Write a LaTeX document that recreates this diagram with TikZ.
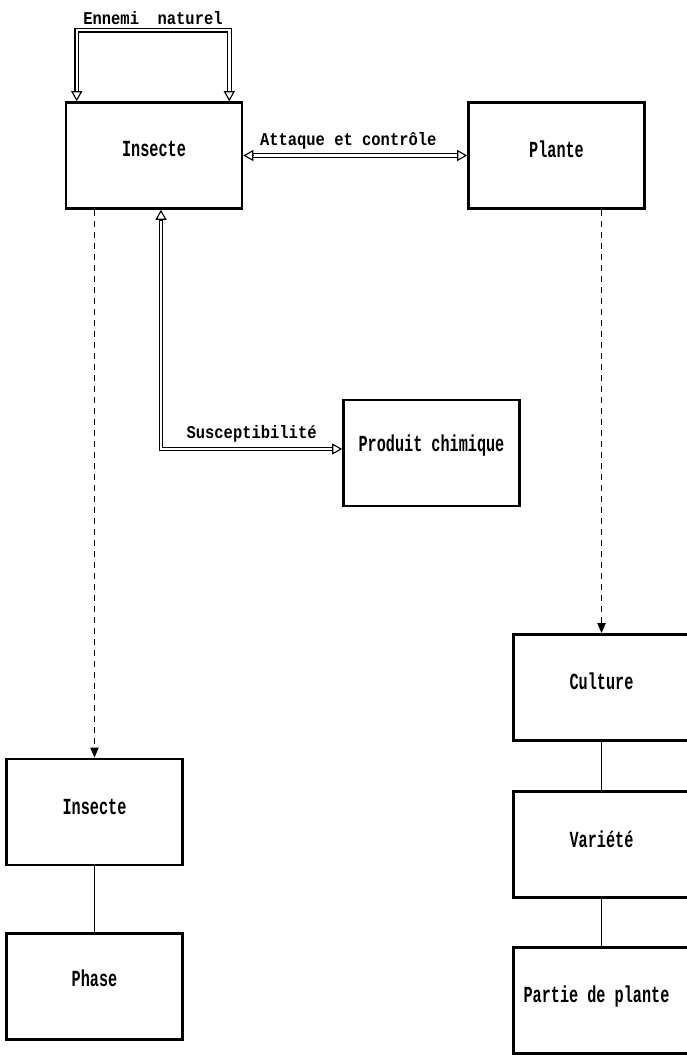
\documentclass[tikz,border=0pt]{standalone}
\usepackage{fontspec}
\usetikzlibrary{arrows.meta,calc}
\newfontfamily\labfont[FakeStretch=0.86]{Liberation Mono}
\newfontfamily\boxfont[FakeStretch=0.66]{Liberation Mono}
\begin{document}
\begin{tikzpicture}[x=1pt,y=-1pt,
 box/.style={draw, line width=2.6pt, minimum width=176pt, minimum height=106pt, inner sep=0pt},
 boxtext/.style={font=\boxfont\bfseries\fontsize{23}{26}\selectfont, inner sep=0pt},
 lab/.style={font=\labfont\bfseries\fontsize{18}{20}\selectfont, inner sep=0pt},
 dbl/.style={double, double distance=2.4pt, line width=1.1pt, shorten <=9.5pt, shorten >=9.5pt},
 hollowtip/.style={line width=1.1pt, line join=miter, -{Triangle[open, length=10pt, width=11pt]}},
 dashedarrow/.style={line width=1.8pt, dash pattern=on 6pt off 5pt, -{Triangle[length=10pt,width=8pt]}},
 thinline/.style={line width=1pt}]
\useasboundingbox (0,0) rectangle (687,1055);
\clip (0,0) rectangle (687,1055);
% boxes
\node[box] (ins)  at (154,155.5) {};
\node[box] (pl)   at (556.5,155.5) {};
\node[box] (prod) at (431.5,453) {};
\node[box] (ins2) at (94.5,812) {};
\node[box] (ph)   at (94.5,986.5) {};
\node[box] (cul)  at (601.5,687.5) {};
\node[box] (var)  at (601.5,844.5) {};
\node[box] (part) at (601.5,1000.5) {};
% box texts
\node[boxtext] (tins)  at ([yshift=7pt]ins.center) {Insecte};
\node[boxtext] (tpl)   at ([yshift=6pt]pl.center) {Plante};
\node[boxtext] (tprod) at ([yshift=7pt]prod.center) {Produit chimique};
\node[boxtext] (tins2) at ([yshift=5pt]ins2.center) {Insecte};
\node[boxtext] (tph)   at ([yshift=8pt]ph.center) {Phase};
\node[boxtext] (tcul)  at ([yshift=6pt]cul.center) {Culture};
\node[boxtext] (tvar)  at ([yshift=5pt]var.center) {Variété};
\node[boxtext] (tpart) at ([xshift=-5pt,yshift=4pt]part.center) {Partie de plante};
% anchor points of the double arrows
\coordinate (e1) at ([xshift=12pt]ins.north west);
\coordinate (e2) at ([xshift=-14pt]ins.north east);
\coordinate (s1) at ([xshift=7pt]ins.south);
\coordinate (s2) at ([yshift=4pt]prod.west);
% double arrow shafts
\draw[dbl] (e1) -- ++(0,-71) -| node[pos=0.25, above=5pt, lab] {Ennemi~~naturel} (e2);
\draw[dbl] (ins.east) -- node[above=6pt, xshift=-7pt, lab] {Attaque et contrôle} (pl.west);
\draw[dbl] (s1) |- node[pos=0.75, above=6pt, lab] {Susceptibilité} (s2);
% hollow heads
\draw[hollowtip] ([yshift=10pt]e1) -- (e1);
\draw[hollowtip] ([yshift=10pt]e2) -- (e2);
\draw[hollowtip] ([xshift=10pt]ins.east) -- (ins.east);
\draw[hollowtip] ([xshift=-10pt]pl.west) -- (pl.west);
\draw[hollowtip] ([yshift=-10pt]s1) -- (s1);
\draw[hollowtip] ([xshift=-10pt]s2) -- (s2);
% dashed arrows
\draw[dashedarrow] (ins.south -| ins2.north) -- (ins2.north);
\draw[dashedarrow] (pl.south -| cul.north) -- (cul.north);
% thin connectors
\draw[thinline] (ins2.south) -- (ph.north);
\draw[thinline] (cul.south) -- (var.north);
\draw[thinline] (var.south) -- (part.north);
\end{tikzpicture}
\end{document}
